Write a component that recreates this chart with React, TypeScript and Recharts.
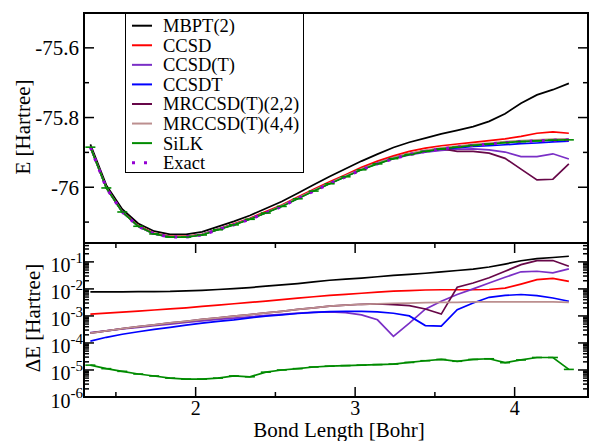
import React from "react";
import { LineChart, Line, XAxis, YAxis, Legend, ReferenceArea } from "recharts";

// bond lengths [Bohr]
const bond = [
  1.34, 1.44, 1.54, 1.64, 1.74, 1.84, 1.94, 2.04, 2.14, 2.24, 2.34, 2.44, 2.54, 2.64, 2.74, 2.84,
  2.94, 3.04, 3.14, 3.24, 3.34, 3.44, 3.54, 3.64, 3.74, 3.84, 3.94, 4.04, 4.14, 4.24, 4.34,
];

// total energies [Hartree], upper panel
const eMbpt = [
  -75.877, -75.994, -76.063, -76.104, -76.126, -76.135, -76.135, -76.128, -76.113, -76.098, -76.081,
  -76.061, -76.041, -76.017, -75.993, -75.969, -75.947, -75.925, -75.905, -75.886, -75.871, -75.859,
  -75.847, -75.837, -75.826, -75.811, -75.789, -75.759, -75.735, -75.72, -75.702,
];
const eCcsd = [
  -75.884, -76.001, -76.07, -76.11, -76.132, -76.141, -76.141, -76.135, -76.12, -76.105, -76.089,
  -76.07, -76.051, -76.028, -76.006, -75.984, -75.964, -75.943, -75.925, -75.91, -75.897, -75.888,
  -75.881, -75.876, -75.871, -75.866, -75.861, -75.854, -75.845, -75.841, -75.845,
];
const eCcsdPT = [
  -75.885, -76.002, -76.071, -76.112, -76.134, -76.142, -76.142, -76.136, -76.121, -76.107, -76.091,
  -76.073, -76.054, -76.032, -76.01, -75.989, -75.969, -75.949, -75.932, -75.918, -75.907, -75.899,
  -75.894, -75.891, -75.89, -75.893, -75.899, -75.912, -75.912, -75.904, -75.919,
];
const eCcsdt = [
  -75.885, -76.002, -76.071, -76.112, -76.134, -76.143, -76.143, -76.136, -76.121, -76.107, -76.091,
  -76.073, -76.054, -76.032, -76.01, -75.989, -75.969, -75.949, -75.932, -75.917, -75.905, -75.897,
  -75.89, -75.887, -75.883, -75.881, -75.878, -75.875, -75.873, -75.87, -75.868,
];
const eMr22 = [
  -75.885, -76.002, -76.071, -76.112, -76.134, -76.142, -76.142, -76.136, -76.121, -76.107, -76.091,
  -76.073, -76.053, -76.031, -76.009, -75.988, -75.967, -75.947, -75.93, -75.915, -75.904, -75.895,
  -75.889, -75.897, -75.897, -75.902, -75.917, -75.948, -75.979, -75.977, -75.933,
];
const eMr44 = [
  -75.885, -76.002, -76.071, -76.112, -76.134, -76.142, -76.142, -76.136, -76.121, -76.107, -76.091,
  -76.073, -76.053, -76.031, -76.009, -75.988, -75.967, -75.947, -75.93, -75.915, -75.903, -75.894,
  -75.887, -75.882, -75.877, -75.873, -75.869, -75.866, -75.864, -75.862, -75.861,
];
const eSilk = [
  -75.885, -76.002, -76.071, -76.112, -76.134, -76.143, -76.143, -76.137, -76.122, -76.108, -76.092,
  -76.074, -76.055, -76.033, -76.011, -75.99, -75.97, -75.95, -75.933, -75.918, -75.906, -75.897,
  -75.89, -75.885, -75.88, -75.876, -75.872, -75.869, -75.867, -75.865, -75.864,
];
const eExact = [
  -75.885, -76.002, -76.071, -76.112, -76.134, -76.143, -76.143, -76.137, -76.122, -76.108, -76.092,
  -76.074, -76.055, -76.033, -76.011, -75.99, -75.97, -75.95, -75.933, -75.918, -75.906, -75.897,
  -75.89, -75.885, -75.88, -75.876, -75.872, -75.869, -75.867, -75.865, -75.864,
];

// |E - E_exact| [Hartree], lower panel
const dMbpt = [
  7.8e-3, 7.8e-3, 7.8e-3, 7.9e-3, 8.0e-3, 8.1e-3, 8.5e-3, 8.9e-3, 9.5e-3, 1.02e-2, 1.12e-2, 1.26e-2,
  1.41e-2, 1.58e-2, 1.82e-2, 2.09e-2, 2.29e-2, 2.51e-2, 2.82e-2, 3.16e-2, 3.47e-2, 3.8e-2, 4.27e-2,
  4.79e-2, 5.37e-2, 6.46e-2, 8.3e-2, 0.11, 0.132, 0.145, 0.162,
];
const dCcsd = [
  1.17e-3, 1.26e-3, 1.38e-3, 1.51e-3, 1.66e-3, 1.82e-3, 2.0e-3, 2.24e-3, 2.51e-3, 2.82e-3, 3.16e-3,
  3.55e-3, 3.98e-3, 4.57e-3, 5.13e-3, 5.75e-3, 6.3e-3, 6.9e-3, 7.6e-3, 8.3e-3, 8.7e-3, 9.1e-3, 9.3e-3,
  9.3e-3, 9.3e-3, 9.5e-3, 1.07e-2, 1.51e-2, 2.19e-2, 2.45e-2, 1.9e-2,
];
const dCcsdPT = [
  2.4e-4, 2.8e-4, 3.3e-4, 3.8e-4, 4.4e-4, 5.0e-4, 5.75e-4, 6.6e-4, 7.4e-4, 8.3e-4, 9.3e-4, 1.05e-3,
  1.15e-3, 1.26e-3, 1.35e-3, 1.41e-3, 1.32e-3, 1.1e-3, 7.2e-4, 1.74e-4, 5.4e-4, 1.78e-3, 3.5e-3, 6.2e-3,
  1.0e-2, 1.66e-2, 2.7e-2, 4.3e-2, 4.5e-2, 3.9e-2, 5.5e-2,
];
const dCcsdt = [
  1.17e-4, 1.62e-4, 2.1e-4, 2.6e-4, 3.16e-4, 3.8e-4, 4.6e-4, 5.4e-4, 6.3e-4, 7.2e-4, 8.5e-4, 9.8e-4,
  1.1e-3, 1.23e-3, 1.35e-3, 1.45e-3, 1.48e-3, 1.48e-3, 1.41e-3, 1.26e-3, 1.0e-3, 4.4e-4, 4.2e-4, 1.7e-3,
  3.0e-3, 4.9e-3, 5.75e-3, 6.2e-3, 5.6e-3, 4.6e-3, 3.5e-3,
];
const dMr22 = [
  2.3e-4, 2.8e-4, 3.4e-4, 4.0e-4, 4.7e-4, 5.5e-4, 6.3e-4, 7.4e-4, 8.5e-4, 9.8e-4, 1.12e-3, 1.29e-3,
  1.48e-3, 1.74e-3, 2.0e-3, 2.3e-3, 2.5e-3, 2.7e-3, 2.8e-3, 2.6e-3, 2.4e-3, 1.8e-3, 1.17e-3, 1.15e-2,
  1.66e-2, 2.6e-2, 4.5e-2, 7.9e-2, 0.112, 0.112, 6.9e-2,
];
const dMr44 = [
  2.3e-4, 2.8e-4, 3.4e-4, 4.0e-4, 4.7e-4, 5.5e-4, 6.3e-4, 7.4e-4, 8.5e-4, 9.8e-4, 1.12e-3, 1.29e-3,
  1.48e-3, 1.74e-3, 2.0e-3, 2.3e-3, 2.5e-3, 2.7e-3, 2.8e-3, 2.95e-3, 3.0e-3, 3.1e-3, 3.16e-3, 3.2e-3,
  3.3e-3, 3.3e-3, 3.3e-3, 3.3e-3, 3.3e-3, 3.3e-3, 3.2e-3,
];
const dSilk = [
  1.51e-5, 1.12e-5, 8.9e-6, 7.1e-6, 6.0e-6, 5.0e-6, 4.6e-6, 4.6e-6, 5.0e-6, 6.0e-6, 5.6e-6, 8.3e-6,
  1.0e-5, 1.12e-5, 1.29e-5, 1.38e-5, 1.45e-5, 1.51e-5, 1.58e-5, 1.66e-5, 1.9e-5, 2.2e-5, 2.45e-5,
  2.1e-5, 2.45e-5, 2.6e-5, 1.86e-5, 2.35e-5, 2.9e-5, 2.9e-5, 1.05e-5,
];

// ticks
const xTicks = [1.5, 2, 2.5, 3, 3.5, 4];
const xLabels = [2, 3, 4];
const eTicks = [-76.1, -76, -75.9, -75.8, -75.7, -75.6];
const eLabels = [-76, -75.8, -75.6];
const decades = [1e-6, 1e-5, 1e-4, 1e-3, 1e-2, 1e-1];
const dTicks = [
  ...decades,
  ...decades.flatMap((d) => [2, 3, 4, 5, 6, 7, 8, 9].map((m) => m * d)).filter((v) => v < 0.5),
];

const series = [
  { key: "mbpt", name: "MBPT(2)", color: "#000000" },
  { key: "ccsd", name: "CCSD", color: "#ff0000" },
  { key: "ccsdpt", name: "CCSD(T)", color: "#7a2fc6" },
  { key: "ccsdt", name: "CCSDT", color: "#0000ff" },
  { key: "mr22", name: "MRCCSD(T)(2,2)", color: "#670748" },
  { key: "mr44", name: "MRCCSD(T)(4,4)", color: "#bc8f8f" },
  { key: "silk", name: "SiLK", color: "#008b00" },
  { key: "exact", name: "Exact", color: "#9400d3", dotted: true },
];

const energyData = bond.map((b, i) => ({
  bond: b,
  mbpt: eMbpt[i],
  ccsd: eCcsd[i],
  ccsdpt: eCcsdPT[i],
  ccsdt: eCcsdt[i],
  mr22: eMr22[i],
  mr44: eMr44[i],
  silk: eSilk[i],
  exact: eExact[i],
}));

const errorData = bond.map((b, i) => ({
  bond: b,
  mbpt: dMbpt[i],
  ccsd: dCcsd[i],
  ccsdpt: dCcsdPT[i],
  ccsdt: dCcsdt[i],
  mr22: dMr22[i],
  mr44: dMr44[i],
  silk: dSilk[i],
}));

const FONT = "'Times New Roman', 'Liberation Serif', 'DejaVu Serif', serif";
const txt = { fontFamily: FONT };
const LEFT = 84;
const RIGHT = 588;
const X_DOMAIN = [1.3, 4.46];
const MAJOR = 10;
const MINOR = 5;

// upper chart: svg at page y 0, plot 13..243
const TOP_H = 250;
const TOP_PT = 13;
const TOP_PB = 243;
// lower chart: svg at page y 236, plot 7..161 (page 243..397)
const BOT_Y = 236;
const BOT_H = 205;
const BOT_PT = 7;
const BOT_PB = 161;

const tickLine = { stroke: "#000", strokeWidth: 1.5 };

const makeXTick = (pt: number, pb: number, showLabel: boolean) => (p: any) => {
  const x = p.x;
  const v = p.payload.value;
  const major = xLabels.includes(v);
  const len = major ? MAJOR : MINOR;
  return (
    <g>
      <line x1={x} x2={x} y1={pb} y2={pb - len} {...tickLine} />
      <line x1={x} x2={x} y1={pt} y2={pt + len} {...tickLine} />
      {showLabel && major && (
        <text x={x} y={pb + 18} textAnchor="middle" fontSize={20} style={txt} fill="#000">
          {v}
        </text>
      )}
    </g>
  );
};

const EnergyTick = (p: any) => {
  const y = p.y;
  const v = p.payload.value;
  const major = eLabels.includes(v);
  const len = major ? MAJOR : MINOR;
  return (
    <g>
      <line x1={LEFT} x2={LEFT + len} y1={y} y2={y} {...tickLine} />
      <line x1={RIGHT} x2={RIGHT - len} y1={y} y2={y} {...tickLine} />
      {major && (
        <text x={LEFT - 5} y={y} dy="0.35em" textAnchor="end" fontSize={21} style={txt} fill="#000">
          {String(v)}
        </text>
      )}
    </g>
  );
};

const LogTick = (p: any) => {
  const y = p.y;
  const v = p.payload.value;
  const lg = Math.log10(v);
  const major = Math.abs(lg - Math.round(lg)) < 1e-6;
  const len = major ? MAJOR : MINOR;
  return (
    <g>
      <line x1={LEFT} x2={LEFT + len} y1={y} y2={y} {...tickLine} />
      <line x1={RIGHT} x2={RIGHT - len} y1={y} y2={y} {...tickLine} />
      {major && (
        <text x={LEFT - 1} y={y + 10.5} textAnchor="end" fontSize={20} style={txt} fill="#000">
          10
          <tspan dy={-9.5} fontSize={15}>
            {String(Math.round(lg))}
          </tspan>
        </text>
      )}
    </g>
  );
};

const Title = ({ tx, ty, text, vertical }: any) => (
  <text
    x={tx}
    y={ty}
    textAnchor="middle"
    fontSize={21}
    style={txt}
    fill="#000"
    transform={vertical ? `rotate(-90, ${tx}, ${ty})` : undefined}
  >
    {text}
  </text>
);

const SilkMark = (p: any) => {
  if (p.cx == null || p.cy == null) return <g key={`m${p.index}`} />;
  return (
    <line
      key={`m${p.index}`}
      x1={p.cx - 5}
      x2={p.cx + 5}
      y1={p.cy}
      y2={p.cy}
      stroke="#008b00"
      strokeWidth={1.6}
    />
  );
};

const LegendBox = () => (
  <div
    style={{
      width: 179,
      height: 160,
      boxSizing: "border-box",
      border: "1px solid #000",
      background: "#fff",
    }}
  >
    <svg width={177} height={158} style={{ display: "block" }}>
      {series.map((s, i) => {
        const y = 11.7 + 19.57 * i;
        return (
          <g key={s.key}>
            <line
              x1={6}
              x2={26}
              y1={y}
              y2={y}
              stroke={s.color}
              strokeWidth={s.dotted ? 3 : 2}
              strokeDasharray={s.dotted ? "3 9" : undefined}
            />
            <text x={37} y={y} dy="0.35em" fontSize={18.5} style={txt} fill="#000">
              {s.name}
            </text>
          </g>
        );
      })}
    </svg>
  </div>
);

function renderLines(withExact: boolean) {
  return series
    .filter((s) => withExact || s.key !== "exact")
    .map((s) => (
      <Line
        key={s.key}
        type="linear"
        dataKey={s.key}
        name={s.name}
        stroke={s.color}
        strokeWidth={s.dotted ? 3 : 1.7}
        strokeDasharray={s.dotted ? "3 9" : undefined}
        dot={s.key === "silk" ? SilkMark : false}
        activeDot={false}
        isAnimationActive={false}
      />
    ));
}

export default function App() {
  return (
    <div style={{ position: "absolute", left: 0, top: 0, width: 594, height: 441, background: "#fff", fontFamily: FONT }}>
      <div style={{ position: "absolute", left: 0, top: 0 }}>
        <LineChart width={594} height={TOP_H} data={energyData} margin={{ top: TOP_PT, right: 594 - RIGHT, bottom: TOP_H - TOP_PB, left: 0 }}>
          <XAxis
            dataKey="bond"
            type="number"
            domain={X_DOMAIN}
            allowDataOverflow
            ticks={xTicks}
            interval={0}
            height={0}
            axisLine={false}
            tickLine={false}
            tick={makeXTick(TOP_PT, TOP_PB, false)}
          />
          <YAxis
            type="number"
            domain={[-76.16, -75.5]}
            allowDataOverflow
            ticks={eTicks}
            interval={0}
            width={LEFT}
            axisLine={false}
            tickLine={false}
            tick={EnergyTick}
            label={<Title tx={30} ty={127} text="E [Hartree]" vertical />}
          />
          <ReferenceArea x1={1.3} x2={4.46} y1={-76.16} y2={-75.5} fill="none" stroke="#000" strokeWidth={2} />
          {renderLines(true)}
          <Legend
            content={() => <LegendBox />}
            layout="vertical"
            align="center"
            verticalAlign="middle"
            wrapperStyle={{ left: 125, top: 13, width: 179, height: 160 }}
          />
        </LineChart>
      </div>
      <div style={{ position: "absolute", left: 0, top: BOT_Y }}>
        <LineChart width={594} height={BOT_H} data={errorData} margin={{ top: BOT_PT, right: 594 - RIGHT, bottom: 0, left: 0 }}>
          <XAxis
            dataKey="bond"
            type="number"
            domain={X_DOMAIN}
            allowDataOverflow
            ticks={xTicks}
            interval={0}
            height={BOT_H - BOT_PB}
            axisLine={false}
            tickLine={false}
            tick={makeXTick(BOT_PT, BOT_PB, true)}
            label={<Title tx={339} ty={201} text="Bond Length [Bohr]" />}
          />
          <YAxis
            type="number"
            scale="log"
            domain={[1e-6, 0.5]}
            allowDataOverflow
            ticks={dTicks}
            interval={0}
            width={LEFT}
            axisLine={false}
            tickLine={false}
            tick={LogTick}
            label={<Title tx={40} ty={82} text="ΔE [Hartree]" vertical />}
          />
          <ReferenceArea x1={1.3} x2={4.46} y1={1e-6} y2={0.5} fill="none" stroke="#000" strokeWidth={2} />
          {renderLines(false)}
        </LineChart>
      </div>
    </div>
  );
}
